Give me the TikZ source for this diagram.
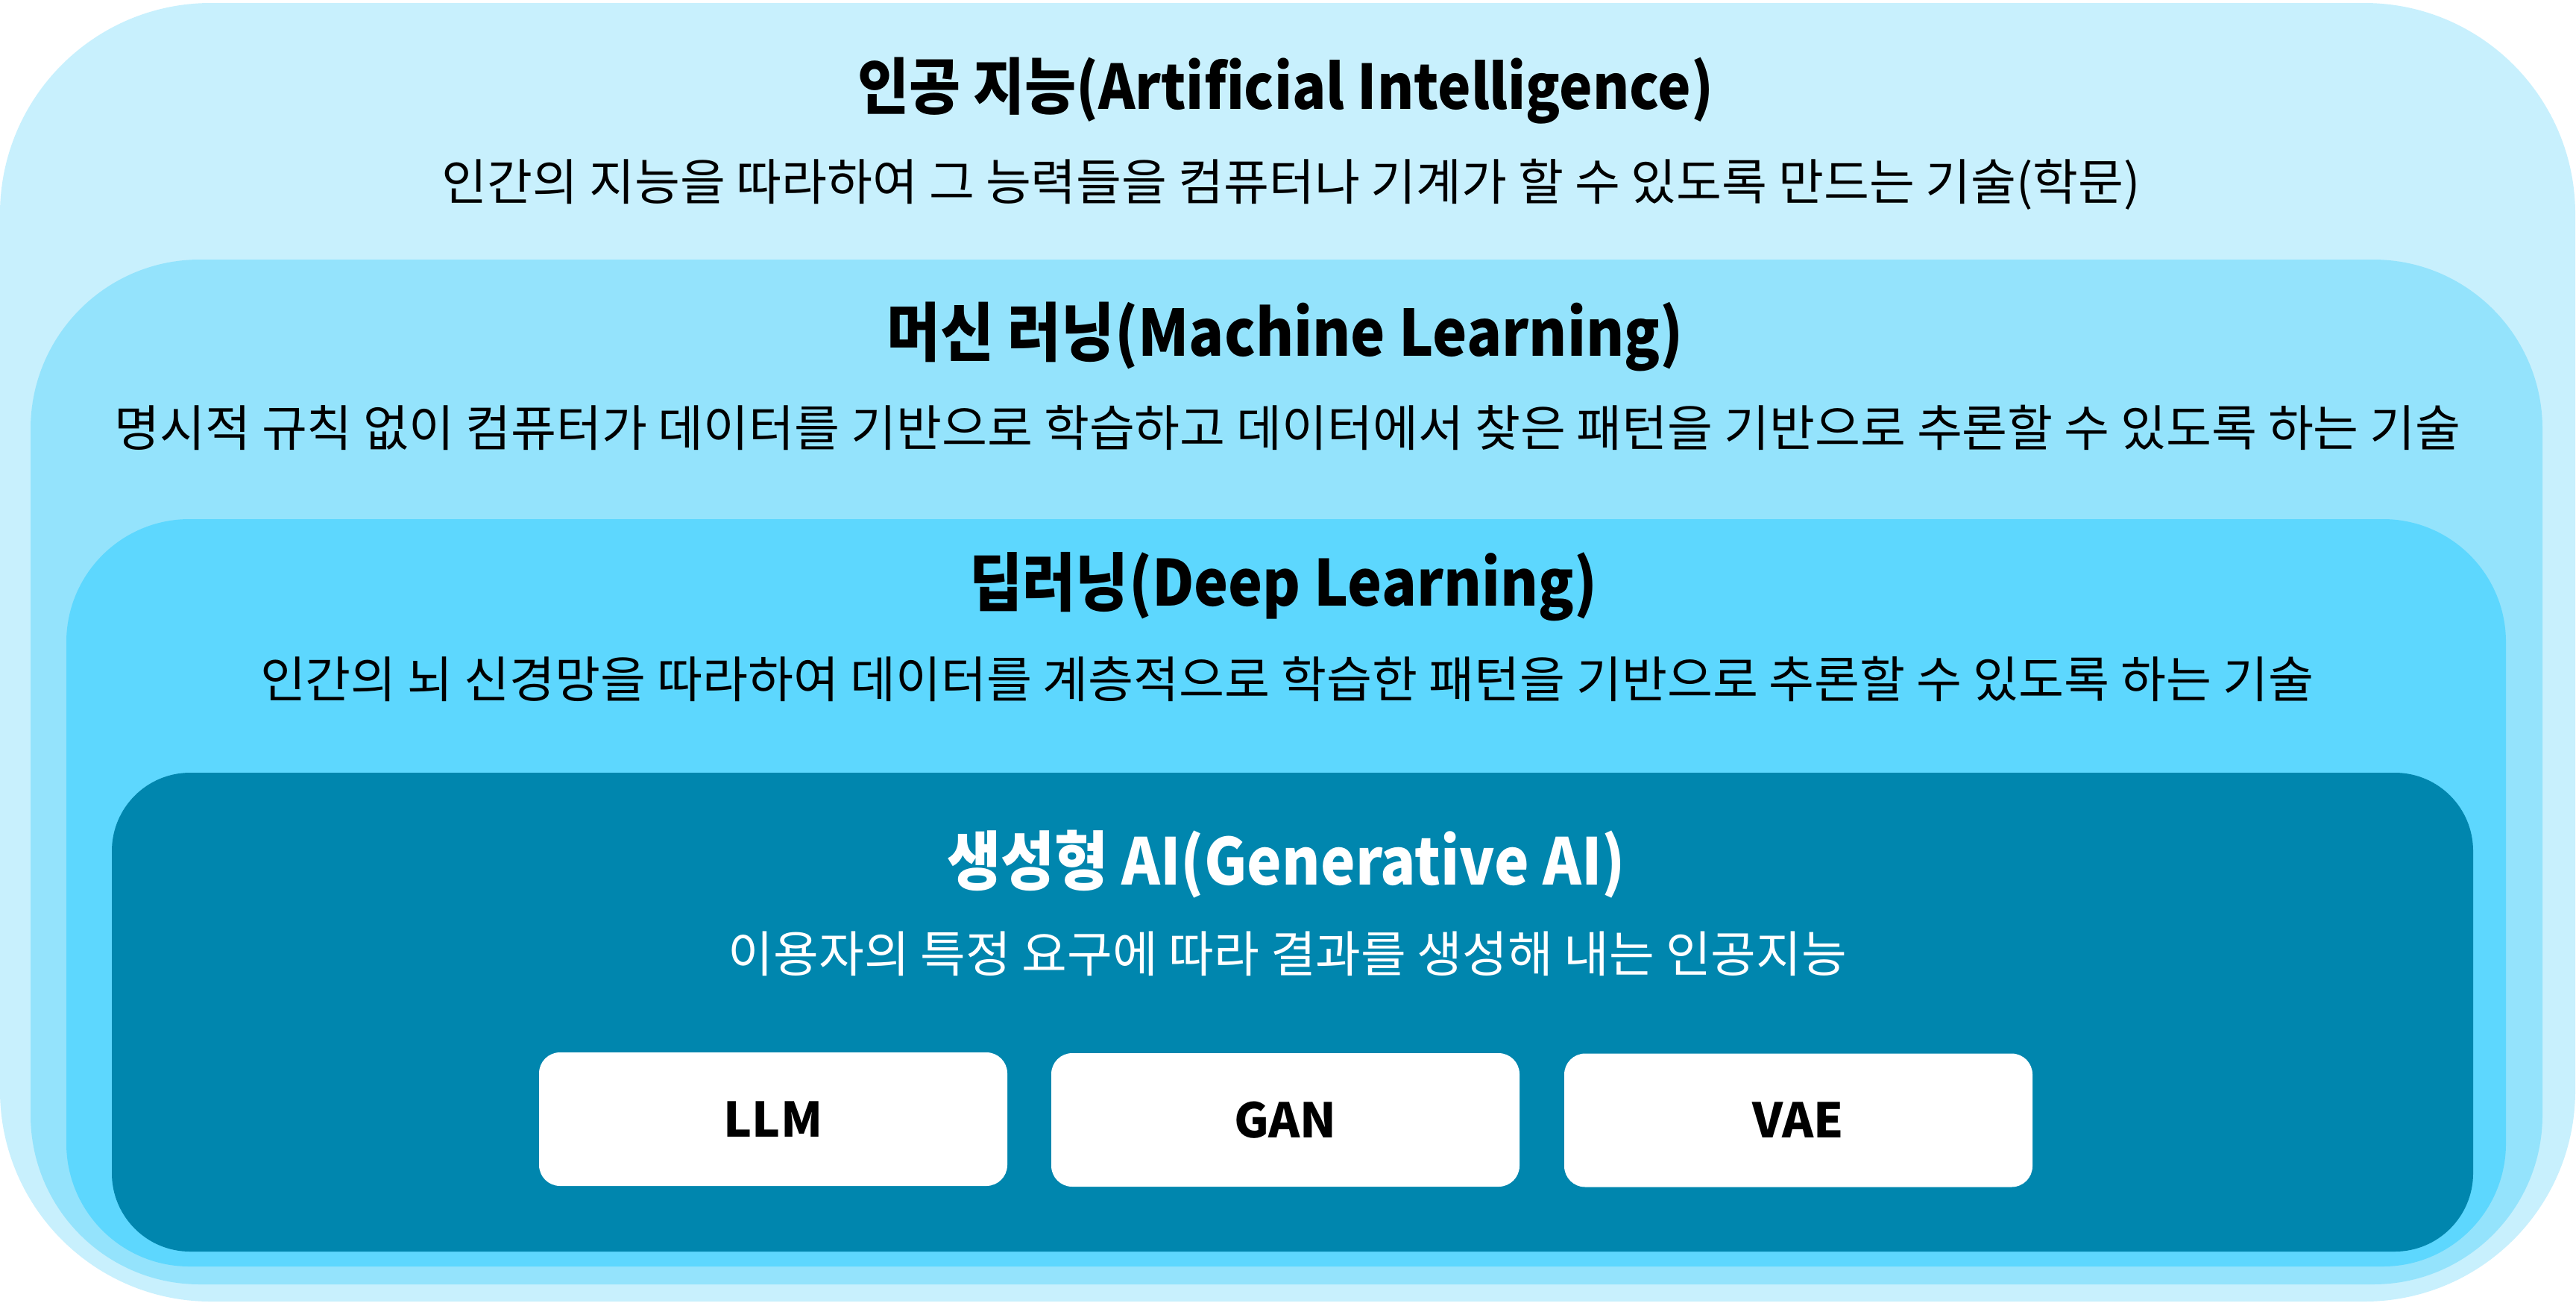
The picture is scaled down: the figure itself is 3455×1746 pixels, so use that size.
\documentclass[tikz,border=0pt]{standalone}
\usepackage{fontspec}
\usepackage{graphicx}
\setmainfont{Noto Sans CJK KR}
\definecolor{cAI}{HTML}{C8F0FD}
\definecolor{cML}{HTML}{94E3FC}
\definecolor{cDL}{HTML}{5DD7FE}
\definecolor{cGA}{HTML}{0086AE}
\newcommand\fitw[2]{\resizebox{#1}{!}{#2}}
\newcommand\fitt[2]{\scalebox{1}[1.1]{\resizebox{#1}{!}{#2}}}
\newcommand\ttl{\fontsize{80}{96}\selectfont\bfseries}
\newcommand\sbt{\fontsize{58}{70}\selectfont}
\tikzset{
  txt/.style={inner sep=0pt, outer sep=0pt, text=black},
  wtxt/.style={inner sep=0pt, outer sep=0pt, text=white},
  wbox/.style={fill=white, draw=none, rounded corners=28pt, inner sep=0pt,
    minimum width=628pt, minimum height=179pt,
    font=\fontsize{64}{72}\selectfont\bfseries}
}
\begin{document}
\begin{tikzpicture}[x=1pt,y=-1pt]
\useasboundingbox (0,0) rectangle (3455,1746);
\fill[white] (0,0) rectangle (3455,1746);
% nested layers
\fill[cAI, rounded corners=283pt] (0,4) rectangle (3454,1745);
\fill[cML, rounded corners=227pt] (41,348) rectangle (3410,1722);
\fill[cDL, rounded corners=165pt] (89,696) rectangle (3361,1698);
\fill[cGA, rounded corners=105pt] (150,1036) rectangle (3317,1678);
% texts
\node[txt] (aiT) at (1724,122) {\fitt{1148pt}{\ttl 인공 지능(Artificial Intelligence)}};
\node[txt] (aiS) at (1732,247) {\fitw{2278pt}{\sbt 인간의 지능을 따라하여 그 능력들을 컴퓨터나 기계가 할 수 있도록 만드는 기술(학문)}};
\node[txt] (mlT) at (1724,451) {\fitt{1068pt}{\ttl 머신 러닝(Machine Learning)}};
\node[txt] (mlS) at (1727,573) {\fitw{3147pt}{\sbt 명시적 규칙 없이 컴퓨터가 데이터를 기반으로 학습하고 데이터에서 찾은 패턴을 기반으로 추론할 수 있도록 하는 기술}};
\node[txt] (dlT) at (1721,787) {\fitt{842pt}{\ttl 딥러닝(Deep Learning)}};
\node[txt] (dlS) at (1726,910) {\fitw{2754pt}{\sbt 인간의 뇌 신경망을 따라하여 데이터를 계층적으로 학습한 패턴을 기반으로 추론할 수 있도록 하는 기술}};
\node[wtxt] (gaT) at (1725,1159) {\fitt{910pt}{\ttl 생성형 AI(Generative AI)}};
\node[wtxt] (gaS) at (1727,1279) {\fitw{1500pt}{\sbt 이용자의 특정 요구에 따라 결과를 생성해 내는 인공지능}};
% model boxes
\node[wbox] (llm) at (1037,1500.5) {LLM};
\node[wbox] (gan) at (1724,1501.5) {GAN};
\node[wbox] (vae) at (2412,1502) {VAE};
\end{tikzpicture}
\end{document}
